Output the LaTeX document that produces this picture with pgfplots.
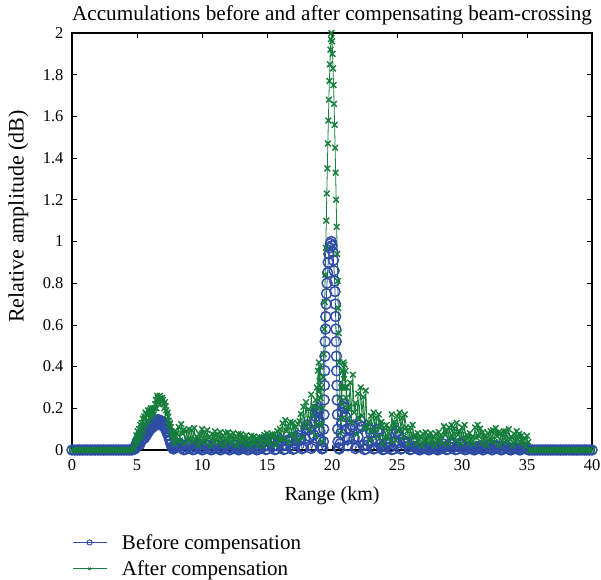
\documentclass[border=0pt]{standalone}
\usepackage{pgfplots}
\pgfplotsset{compat=1.18}
\usepackage{fontspec}
\setmainfont{Liberation Serif}
\definecolor{bblue}{RGB}{46,76,164}
\definecolor{ggreen}{RGB}{20,126,58}
\begin{document}
\begin{tikzpicture}
\useasboundingbox (-72pt,-129pt) rectangle (529pt,450pt);
\begin{axis}[
  at={(0,0)}, anchor=south west,
  scale only axis, width=520pt, height=417pt,
  xmin=0, xmax=40, ymin=0, ymax=2,
  xtick={0,5,10,15,20,25,30,35,40},
  ytick={0,0.2,0.4,0.6,0.8,1,1.2,1.4,1.6,1.8,2},
  yticklabels={0,0.2,0.4,0.6,0.8,1,1.2,1.4,1.6,1.8,2},
  tick align=inside, tick pos=both,
  major tick length=5pt,
  every tick/.style={black, line width=0.8pt},
  axis line style={black, line width=1.1pt},
  /pgf/number format/assume math mode=true,
  tick label style={font=\fontsize{16.5}{18}\selectfont},
  xticklabel style={yshift=-6pt},
  yticklabel style={xshift=-5pt},
  clip=false,
  title={Accumulations before and after compensating beam-crossing},
  title style={font=\fontsize{21.2}{24}\selectfont, at={(axis description cs:0.5,1.016)}, anchor=base},
  xlabel={Range (km)},
  xlabel style={font=\fontsize{20}{24}\selectfont, at={(axis description cs:0.5,-0.11)}, anchor=center},
  ylabel={Relative amplitude (dB)},
  ylabel style={font=\fontsize{22}{26}\selectfont, at={(axis description cs:-0.103,0.56)}, anchor=center},
  legend style={at={(axis description cs:0,-0.197)}, anchor=north west, draw=none, fill=none,
    font=\fontsize{21}{25}\selectfont, row sep=6pt, inner sep=0pt,
    /tikz/every odd column/.append style={column sep=13pt}},
  legend cell align=left,
  legend image code/.code={\draw[mark repeat=2,mark phase=2] plot coordinates {(0pt,0pt) (17pt,0pt) (34pt,0pt)};},
]
% Before compensation
\addplot[forget plot, color=bblue, line width=0.8pt, mark=o, mark size=5pt, mark options={line width=1.45pt}] coordinates {
(0,0)(0.2,0)(0.4,0)(0.6,0)(0.8,0)(1,0)(1.2,0)(1.4,0)(1.6,0)(1.8,0)(2,0)(2.2,0)(2.4,0)(2.6,0)(2.8,0)(3,0)(3.2,0)(3.4,0)(3.6,0)(3.8,0)(4,0)(4.2,0)(4.4,0)(4.6,0)
(4.8,0.004)(4.85,0.015)(4.9,0.01)(4.95,0.03)(5,0.02)(5.05,0.045)(5.1,0.03)(5.15,0.05)(5.2,0.025)(5.25,0.06)(5.3,0.04)(5.35,0.07)(5.4,0.05)(5.45,0.075)(5.5,0.055)(5.55,0.08)(5.6,0.06)(5.65,0.09)(5.7,0.07)(5.75,0.1)(5.8,0.08)(5.85,0.105)(5.9,0.09)(5.95,0.115)
(6,0.1)(6.05,0.12)(6.1,0.105)(6.15,0.13)(6.2,0.11)(6.25,0.135)(6.3,0.115)(6.35,0.14)(6.4,0.12)(6.45,0.142)(6.5,0.125)(6.55,0.143)(6.6,0.127)(6.65,0.145)(6.7,0.127)(6.75,0.142)(6.8,0.125)(6.85,0.14)(6.9,0.12)(6.95,0.135)
(7,0.115)(7.05,0.128)(7.1,0.11)(7.15,0.12)(7.2,0.1)(7.25,0.105)(7.3,0.085)(7.35,0.09)(7.4,0.07)(7.45,0.07)(7.5,0.05)(7.55,0.045)(7.6,0.03)(7.65,0.03)(7.7,0.015)(7.75,0.012)(7.8,0.005)(7.85,0.02)(7.9,0.01)(7.95,0.03)(8,0.02)
(8.1,0.0135)(8.2,0.0255)(8.3,0.03)(8.4,0.024)(8.5,0.012)(8.6,0.0015)(8.7,0.003)(8.8,0.0135)(8.9,0.0255)(9,0.03)(9.1,0.024)(9.2,0.012)(9.3,0.0015)(9.4,0.003)(9.5,0.0135)(9.6,0.0255)(9.7,0.03)(9.8,0.024)(9.9,0.012)
(10,0.001)(10.1,0.0025)(10.2,0.011)(10.3,0.021)(10.4,0.025)(10.5,0.02)(10.6,0.01)(10.7,0.001)(10.8,0.0025)(10.9,0.011)(11,0.021)(11.1,0.025)(11.2,0.02)(11.3,0.01)(11.4,0.001)(11.5,0.0025)(11.6,0.011)(11.7,0.021)(11.8,0.025)(11.9,0.02)(12,0.01)(12.1,0.001)(12.2,0.0025)(12.3,0.011)(12.4,0.021)(12.5,0.025)(12.6,0.02)(12.7,0.01)(12.8,0.001)(12.9,0.0025)
(13,0.009)(13.1,0.017)(13.2,0.02)(13.3,0.016)(13.4,0.008)(13.5,0.001)(13.6,0.002)(13.7,0.009)(13.8,0.017)(13.9,0.02)(14,0.016)(14.1,0.008)(14.2,0.001)(14.3,0.002)(14.4,0.009)
(14.5,0.038)(14.6,0.045)(14.7,0.036)(14.8,0.018)(14.9,0.002)(15,0.0045)(15.1,0.02)(15.2,0.038)(15.3,0.055)(15.4,0.036)(15.5,0.018)(15.6,0.002)(15.7,0.0045)(15.8,0.02)(15.9,0.038)
(16,0.05)(16.1,0.04)(16.2,0.02)(16.3,0.0025)(16.4,0.005)(16.5,0.0225)(16.6,0.0425)(16.7,0.05)(16.8,0.04)(16.9,0.02)
(17,0.0035)(17.1,0.007)(17.2,0.0315)(17.3,0.06)(17.4,0.07)(17.5,0.056)(17.6,0.048)(17.7,0.006)(17.8,0.012)(17.9,0.054)(18,0.102)(18.1,0.12)(18.2,0.096)(18.3,0.064)(18.4,0.008)(18.5,0.016)(18.6,0.072)(18.7,0.136)
(18.76,0.16)(18.82,0.19)(18.88,0.2)(18.94,0.18)(19,0.14)(19.06,0.09)(19.12,0.05)(19.18,0.02)(19.24,0.005)(19.3,0.01)(19.34,0.04)(19.36,0.1)(19.38,0.17)(19.4,0.24)(19.42,0.31)(19.44,0.38)(19.46,0.45)(19.48,0.52)(19.5,0.58)(19.52,0.64)(19.55,0.7)(19.58,0.75)(19.62,0.8)(19.66,0.85)(19.71,0.9)(19.76,0.94)(19.82,0.97)(19.88,0.99)(19.94,1)
(20,0.98)(20.06,0.95)(20.11,0.91)(20.16,0.86)(20.2,0.81)(20.23,0.76)(20.26,0.7)(20.28,0.64)(20.3,0.58)(20.32,0.52)(20.34,0.45)(20.36,0.38)(20.38,0.31)(20.4,0.24)(20.42,0.17)(20.44,0.1)(20.46,0.04)(20.5,0.01)(20.56,0.005)(20.62,0.03)(20.68,0.08)(20.74,0.13)(20.8,0.18)(20.86,0.21)(20.92,0.22)(20.98,0.2)(21.04,0.16)(21.1,0.1)(21.16,0.05)(21.22,0.02)
(21.3,0.054)(21.4,0.102)(21.5,0.12)(21.6,0.112)(21.7,0.056)(21.8,0.007)(21.9,0.014)(22,0.063)(22.1,0.119)(22.2,0.14)(22.3,0.112)(22.4,0.02)(22.5,0.0025)(22.6,0.005)(22.7,0.0225)(22.8,0.0425)(22.9,0.1)(23,0.08)(23.1,0.04)(23.2,0.005)(23.3,0.01)(23.4,0.045)(23.5,0.085)(23.6,0.1)(23.7,0.028)(23.8,0.014)(23.9,0.002)
(24,0.0035)(24.1,0.016)(24.2,0.03)(24.3,0.035)(24.4,0.028)(24.5,0.014)(24.6,0.002)(24.7,0.0035)(24.8,0.04)(24.9,0.077)(25,0.09)(25.1,0.072)(25.2,0.036)(25.3,0.0045)(25.4,0.009)(25.5,0.04)(25.6,0.034)(25.7,0.04)(25.8,0.032)(25.9,0.016)
(26,0.002)(26.1,0.004)(26.2,0.018)(26.3,0.034)(26.4,0.015)(26.5,0.012)(26.6,0.006)(26.7,0.001)(26.8,0.0015)(26.9,0.007)(27,0.013)(27.1,0.015)(27.2,0.012)(27.3,0.006)(27.4,0.001)(27.5,0.0015)(27.6,0.007)(27.7,0.013)(27.8,0.015)(27.9,0.012)
(28,0.006)(28.1,0.001)(28.2,0.0015)(28.3,0.007)(28.4,0.013)(28.5,0.015)(28.6,0.028)(28.7,0.014)(28.8,0.002)(28.9,0.0035)(29,0.016)(29.1,0.03)(29.2,0.035)(29.3,0.028)(29.4,0.014)(29.5,0.002)(29.6,0.0035)(29.7,0.016)(29.8,0.03)(29.9,0.035)
(30,0.028)(30.1,0.014)(30.2,0.002)(30.3,0.0015)(30.4,0.007)(30.5,0.013)(30.6,0.015)(30.7,0.012)(30.8,0.006)(30.9,0.001)(31,0.0015)(31.1,0.007)(31.2,0.013)(31.3,0.015)(31.4,0.02)(31.5,0.01)(31.6,0.001)(31.7,0.0025)(31.8,0.011)(31.9,0.021)
(32,0.025)(32.1,0.02)(32.2,0.01)(32.3,0.001)(32.4,0.0025)(32.5,0.011)(32.6,0.017)(32.7,0.02)(32.8,0.016)(32.9,0.008)(33,0.001)(33.1,0.002)(33.2,0.009)(33.3,0.017)(33.4,0.02)(33.5,0.016)(33.6,0.005)(33.7,0.001)(33.8,0.001)(33.9,0.005)
(34,0.01)(34.1,0.012)(34.2,0.01)(34.3,0.005)(34.4,0.001)(34.5,0.001)(34.6,0.005)(34.7,0.01)(34.8,0.012)(34.9,0.01)(35,0.005)(35.1,0.001)
(35.2,0)(35.4,0)(35.6,0)(35.8,0)(36,0)(36.2,0)(36.4,0)(36.6,0)(36.8,0)(37,0)(37.2,0)(37.4,0)(37.6,0)(37.8,0)(38,0)(38.2,0)(38.4,0)(38.6,0)(38.8,0)(39,0)(39.2,0)(39.4,0)(39.6,0)(39.8,0)(40,0)
};
% After compensation
\addplot[forget plot, color=ggreen, line width=0.8pt, mark=x, mark size=4pt, mark options={line width=1.4pt}] coordinates {
(0,0)(0.2,0)(0.4,0)(0.6,0)(0.8,0)(1,0)(1.2,0)(1.4,0)(1.6,0)(1.8,0)(2,0)(2.2,0)(2.4,0)(2.6,0)(2.8,0)(3,0)(3.2,0)(3.4,0)(3.6,0)(3.8,0)(4,0)(4.2,0)(4.4,0)(4.6,0)
(4.8,0.01)(4.85,0.04)(4.9,0.03)(4.95,0.07)(5,0.06)(5.05,0.09)(5.1,0.04)(5.15,0.1)(5.2,0.08)(5.25,0.12)(5.3,0.06)(5.35,0.13)(5.4,0.11)(5.45,0.15)(5.5,0.09)(5.55,0.16)(5.6,0.15)(5.65,0.18)(5.7,0.12)(5.75,0.17)(5.8,0.17)(5.85,0.19)(5.9,0.14)(5.95,0.18)
(6,0.19)(6.05,0.2)(6.1,0.16)(6.15,0.19)(6.2,0.2)(6.25,0.18)(6.3,0.17)(6.35,0.2)(6.4,0.22)(6.45,0.24)(6.5,0.2)(6.55,0.26)(6.6,0.25)(6.65,0.23)(6.7,0.22)(6.75,0.26)(6.8,0.25)(6.85,0.24)(6.9,0.23)(6.95,0.25)
(7,0.24)(7.05,0.22)(7.1,0.2)(7.15,0.23)(7.2,0.21)(7.25,0.19)(7.3,0.17)(7.35,0.18)(7.4,0.16)(7.45,0.14)(7.5,0.12)(7.55,0.13)(7.6,0.11)(7.65,0.09)(7.7,0.07)(7.75,0.08)(7.8,0.05)(7.85,0.06)(7.9,0.03)(7.95,0.09)(8,0.08)
(8.1,0.044)(8.2,0.11)(8.3,0.046)(8.4,0.124)(8.5,0.078)(8.6,0.098)(8.7,0.033)(8.8,0.09)(8.9,0.05)(9,0.1)(9.1,0.055)(9.2,0.094)(9.3,0.039)(9.4,0.105)(9.5,0.051)(9.6,0.064)(9.7,0.021)(9.8,0.077)(9.9,0.043)
(10,0.1)(10.1,0.055)(10.2,0.085)(10.3,0.035)(10.4,0.095)(10.5,0.06)(10.6,0.064)(10.7,0.021)(10.8,0.077)(10.9,0.043)(11,0.09)(11.1,0.05)(11.2,0.077)(11.3,0.032)(11.4,0.086)(11.5,0.054)(11.6,0.068)(11.7,0.023)(11.8,0.081)(11.9,0.045)
(12,0.085)(12.1,0.047)(12.2,0.072)(12.3,0.03)(12.4,0.081)(12.5,0.051)(12.6,0.064)(12.7,0.021)(12.8,0.077)(12.9,0.043)(13,0.075)(13.1,0.041)(13.2,0.064)(13.3,0.026)(13.4,0.071)(13.5,0.045)(13.6,0.056)(13.7,0.019)(13.8,0.068)(13.9,0.038)
(14,0.065)(14.1,0.036)(14.2,0.055)(14.3,0.023)(14.4,0.062)(14.5,0.039)(14.6,0.06)(14.7,0.02)(14.8,0.072)(14.9,0.04)(15,0.08)(15.1,0.044)(15.2,0.068)(15.3,0.028)(15.4,0.076)(15.5,0.06)(15.6,0.075)(15.7,0.025)(15.8,0.09)(15.9,0.05)
(16,0.1)(16.1,0.055)(16.2,0.128)(16.3,0.053)(16.4,0.143)(16.5,0.09)(16.6,0.113)(16.7,0.038)(16.8,0.135)(16.9,0.075)(17,0.13)(17.1,0.072)(17.2,0.11)(17.3,0.046)(17.4,0.124)(17.5,0.138)(17.6,0.173)(17.7,0.058)(17.8,0.207)(17.9,0.115)
(18,0.23)(18.1,0.127)(18.2,0.196)(18.3,0.098)(18.4,0.266)(18.5,0.168)(18.6,0.21)(18.7,0.07)
(18.76,0.24)(18.8,0.12)(18.84,0.3)(18.88,0.2)(18.92,0.38)(18.96,0.28)(19,0.42)(19.04,0.33)(19.08,0.4)(19.12,0.25)(19.16,0.3)(19.2,0.12)(19.24,0.04)(19.28,0.2)(19.32,0.35)(19.36,0.46)(19.4,0.58)(19.44,0.71)(19.48,0.84)(19.52,0.97)(19.56,1.1)(19.6,1.23)(19.64,1.35)(19.68,1.47)(19.72,1.58)(19.76,1.68)(19.8,1.77)(19.84,1.85)(19.88,1.92)(19.92,1.97)(19.96,2)
(20,1.96)(20.04,1.9)(20.08,1.83)(20.12,1.75)(20.16,1.66)(20.2,1.56)(20.24,1.45)(20.28,1.33)(20.32,1.2)(20.36,1.07)(20.4,0.94)(20.44,0.81)(20.48,0.68)(20.52,0.56)(20.56,0.42)(20.6,0.25)(20.64,0.08)(20.68,0.15)(20.72,0.3)(20.76,0.22)(20.8,0.38)(20.84,0.3)(20.88,0.42)(20.92,0.34)(20.96,0.41)(21,0.3)(21.04,0.38)(21.08,0.25)(21.12,0.3)(21.16,0.15)(21.2,0.2)
(21.3,0.209)(21.4,0.323)(21.5,0.133)(21.6,0.361)(21.7,0.18)(21.8,0.225)(21.9,0.075)(22,0.27)(22.1,0.15)(22.2,0.3)(22.3,0.165)(22.4,0.255)(22.5,0.105)(22.6,0.285)(22.7,0.108)(22.8,0.135)(22.9,0.045)(23,0.162)(23.1,0.09)(23.2,0.18)(23.3,0.099)(23.4,0.153)(23.5,0.063)(23.6,0.171)(23.7,0.108)(23.8,0.135)(23.9,0.03)
(24,0.108)(24.1,0.06)(24.2,0.12)(24.3,0.066)(24.4,0.102)(24.5,0.042)(24.6,0.171)(24.7,0.108)(24.8,0.135)(24.9,0.045)(25,0.162)(25.1,0.09)(25.2,0.18)(25.3,0.099)(25.4,0.153)(25.5,0.063)(25.6,0.171)(25.7,0.108)(25.8,0.09)(25.9,0.03)
(26,0.108)(26.1,0.06)(26.2,0.12)(26.3,0.066)(26.4,0.072)(26.5,0.03)(26.6,0.081)(26.7,0.051)(26.8,0.064)(26.9,0.021)(27,0.077)(27.1,0.043)(27.2,0.085)(27.3,0.047)(27.4,0.072)(27.5,0.03)(27.6,0.081)(27.7,0.051)(27.8,0.064)(27.9,0.021)
(28,0.077)(28.1,0.043)(28.2,0.085)(28.3,0.047)(28.4,0.072)(28.5,0.03)(28.6,0.114)(28.7,0.072)(28.8,0.09)(28.9,0.03)(29,0.108)(29.1,0.06)(29.2,0.12)(29.3,0.066)(29.4,0.102)(29.5,0.042)(29.6,0.13)(29.7,0.072)(29.8,0.09)(29.9,0.03)
(30,0.108)(30.1,0.06)(30.2,0.12)(30.3,0.047)(30.4,0.072)(30.5,0.03)(30.6,0.081)(30.7,0.051)(30.8,0.064)(30.9,0.03)(31,0.108)(31.1,0.06)(31.2,0.12)(31.3,0.066)(31.4,0.102)(31.5,0.032)(31.6,0.086)(31.7,0.054)(31.8,0.068)(31.9,0.023)
(32,0.081)(32.1,0.045)(32.2,0.09)(32.3,0.05)(32.4,0.094)(32.5,0.039)(32.6,0.105)(32.7,0.066)(32.8,0.083)(32.9,0.023)(33,0.081)(33.1,0.045)(33.2,0.09)(33.3,0.058)(33.4,0.089)(33.5,0.037)(33.6,0.1)(33.7,0.051)(33.8,0.064)(33.9,0.021)
(34,0.077)(34.1,0.043)(34.2,0.09)(34.3,0.05)(34.4,0.077)(34.5,0.032)(34.6,0.071)(34.7,0.045)(34.8,0.056)(34.9,0.019)(35,0.068)(35.1,0.038)
(35.2,0)(35.4,0)(35.6,0)(35.8,0)(36,0)(36.2,0)(36.4,0)(36.6,0)(36.8,0)(37,0)(37.2,0)(37.4,0)(37.6,0)(37.8,0)(38,0)(38.2,0)(38.4,0)(38.6,0)(38.8,0)(39,0)(39.2,0)(39.4,0)(39.6,0)(39.8,0)(40,0)
};
\addlegendimage{color=bblue, line width=0.8pt, mark=o, mark size=2.6pt, mark options={line width=0.9pt}}
\addlegendentry{Before compensation}
\addlegendimage{color=ggreen, line width=0.8pt, mark=x, mark size=1.8pt, mark options={line width=0.9pt}}
\addlegendentry{After compensation}
\end{axis}
\end{tikzpicture}
\end{document}
